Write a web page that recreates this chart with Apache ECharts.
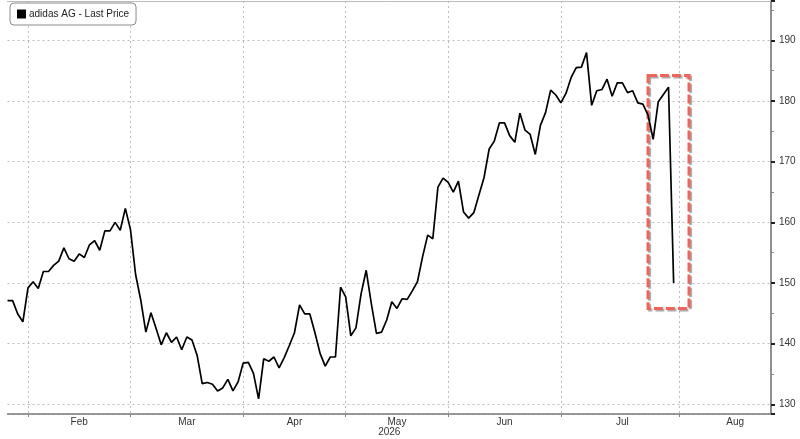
<!DOCTYPE html>
<html>
<head>
<meta charset="utf-8">
<script src="https://cdn.jsdelivr.net/npm/echarts@6/dist/echarts.min.js"></script>
<style>
  html, body { margin: 0; padding: 0; background: #fff; }
  #chart { width: 800px; height: 439px; }
</style>
</head>
<body>
<div id="chart"></div>
<script>
// ---- data ----
const seriesName = 'adidas AG - Last Price';
const firstDay = '2026-01-27';
const lastDay = '2026-08-27';
const holidays = ['2026-04-03', '2026-04-06', '2026-05-01'];
const prices = [
  147.1,147.1,144.9,143.6,149.2,150.2,149.1,151.9,151.9,152.9,
  153.6,155.8,154.0,153.6,154.8,154.2,156.3,157.0,155.4,158.6,
  158.6,160.0,158.7,162.3,158.8,151.4,147.2,141.9,145.1,142.5,
  139.8,141.8,140.2,141.1,139.0,141.1,140.6,138.1,133.4,133.6,
  133.3,132.2,132.7,134.1,132.2,133.7,136.8,136.9,135.1,130.9,
  137.5,137.1,137.8,136.0,137.7,139.7,141.8,146.4,144.9,144.9,
  141.8,138.4,136.3,137.8,137.8,149.3,147.7,141.3,142.6,148.2,
  152.1,146.6,141.7,141.9,143.9,146.9,145.8,147.4,147.3,148.7,
  150.2,154.3,157.9,157.3,165.8,167.3,166.6,165.0,166.8,161.7,
  160.7,161.6,164.5,167.4,172.1,173.4,176.4,176.4,174.3,173.2,
  178.0,175.2,174.5,171.2,176.0,178.1,181.8,181.0,179.7,181.3,
  183.9,185.5,185.6,188.0,179.3,181.7,181.9,183.6,180.8,183.0,
  183.0,181.4,181.7,179.7,179.5,177.7,173.7,179.9,181.1,182.3,
  150.0
];
const monthLabels = [
  ['2026-02-16', 'Feb'], ['2026-03-17', 'Mar'], ['2026-04-17', 'Apr'],
  ['2026-05-18', 'May'], ['2026-06-16', 'Jun'], ['2026-07-17', 'Jul'],
  ['2026-08-18', 'Aug']
];
const yearLabel = '2026';
const yTicks = [130, 140, 150, 160, 170, 180, 190];
const boxRange = { from: '2026-07-24', to: '2026-08-05', top: 184.2, bottom: 145.8 };

// ---- trading-day categories (weekdays minus exchange holidays) ----
const dates = [];
for (let d = new Date(firstDay + 'T00:00:00Z'); d <= new Date(lastDay + 'T00:00:00Z'); d.setUTCDate(d.getUTCDate() + 1)) {
  const wd = d.getUTCDay();
  const s = d.toISOString().slice(0, 10);
  if (wd === 0 || wd === 6 || holidays.includes(s)) continue;
  dates.push(s);
}
const monthStart = new Set();
dates.forEach((s, i) => { if (i > 0 && s.slice(5, 7) !== dates[i - 1].slice(5, 7)) monthStart.add(i); });
const labelMap = new Map(monthLabels);

const font = "'Liberation Sans', Arial, sans-serif";
const chart = echarts.init(document.getElementById('chart'), null, { renderer: 'canvas' });
chart.setOption({
  animation: false,
  backgroundColor: '#ffffff',
  textStyle: { fontFamily: font },
  grid: { left: 7.5, right: 29, top: 1, bottom: 25, containLabel: false, outerBoundsMode: 'none' },
  legend: {
    left: 10, top: 3,
    padding: [6, 7, 6, 7],
    backgroundColor: '#ffffff',
    borderColor: '#8a8a8a', borderWidth: 1, borderRadius: 4,
    icon: 'rect', itemWidth: 9, itemHeight: 9,
    textStyle: { fontSize: 10, color: '#222', fontFamily: font, padding: [0, 0, 0, -2] },
    data: [seriesName]
  },
  xAxis: [{
    type: 'category',
    data: dates,
    boundaryGap: false,
    name: yearLabel,
    nameLocation: 'middle',
    nameGap: 13,
    nameMoveOverlap: false,
    nameTextStyle: { fontSize: 10, color: '#333', fontFamily: font },
    axisLine: { show: true, lineStyle: { color: '#7a7a7a', width: 1.5 } },
    axisTick: { show: true, length: 3, interval: (i) => monthStart.has(i), lineStyle: { color: '#888' } },
    axisLabel: {
      show: true, margin: 3, fontSize: 10, color: '#333', fontFamily: font,
      interval: (i, v) => labelMap.has(v),
      formatter: (v) => labelMap.get(v) || ''
    },
    splitLine: { show: true, interval: (i) => monthStart.has(i), lineStyle: { color: '#bdbdbd', type: [2, 3], width: 1 } }
  }, {
    type: 'category',
    data: dates,
    boundaryGap: false,
    position: 'top',
    axisLine: { show: true, lineStyle: { color: '#bbbbbb', width: 1 } },
    axisTick: { show: false }, axisLabel: { show: false }, splitLine: { show: false }
  }],
  yAxis: {
    type: 'value',
    position: 'right',
    min: 128.4, max: 196.5,
    scale: true,
    axisLine: { show: true, lineStyle: { color: '#6a6a6a', width: 1.5 } },
    axisTick: { show: true, length: 4, lineStyle: { color: '#222', width: 2 } },
    minorTick: { show: true, splitNumber: 2, length: 3, lineStyle: { color: '#888' } },
    axisLabel: {
      show: true, margin: 8, fontSize: 10, color: '#333', fontFamily: font,
      showMinLabel: false, showMaxLabel: false,
      formatter: (v) => yTicks.includes(Math.round(v * 10) / 10) ? String(Math.round(v)) : ''
    },
    splitLine: { show: true, lineStyle: { color: '#bdbdbd', type: [2, 3], width: 1 } }
  },
  series: [{
    name: seriesName,
    type: 'line',
    data: prices,
    showSymbol: false,
    symbol: 'none',
    itemStyle: { color: '#000' },
    lineStyle: { color: '#000', width: 1.7 },
    z: 3,
    markArea: {
      silent: true,
      label: { show: false },
      itemStyle: {
        color: 'rgba(0,0,0,0)',
        borderColor: '#f0655b', borderWidth: 3, borderType: [9, 3],
        shadowColor: 'rgba(0,0,0,0.35)', shadowBlur: 1, shadowOffsetX: 1.5, shadowOffsetY: 1.5
      },
      data: [[
        { xAxis: boxRange.from, yAxis: boxRange.top },
        { xAxis: boxRange.to, yAxis: boxRange.bottom }
      ]]
    }
  }]
});
</script>
</body>
</html>
